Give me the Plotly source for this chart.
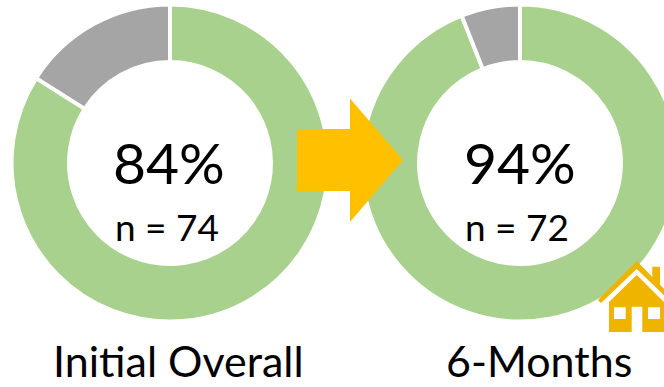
import plotly.graph_objects as go

# Share of patients per assessment
labels = ["Yes", "No"]
initial_values = [84, 16]
followup_values = [94, 6]
initial_pct = "84%"
followup_pct = "94%"
initial_n = "n = 74"
followup_n = "n = 72"
initial_title = "Initial Overall"
followup_title = "6-Months"

GREEN = "#A9D18E"
GREY = "#A5A5A5"
AMBER = "#FFC000"
HOUSE = "#EFB400"
FONT = "Lato, Carlito, Calibri, sans-serif"

# The canvas runs slightly past the window so the right ring bleeds off the edge
W, H = 680, 387


def dom(cx, cy, r):
    return dict(x=[(cx - r) / W, (cx + r) / W], y=[1 - (cy + r) / H, 1 - (cy - r) / H])


def ring(values, cx, cy):
    return go.Pie(
        labels=labels, values=values, hole=0.637, sort=False, direction="clockwise",
        rotation=0, textinfo="none", hoverinfo="label+percent", showlegend=False,
        marker=dict(colors=[GREEN, GREY], line=dict(color="white", width=4)),
        domain=dom(cx, cy, 158.5),
    )


fig = go.Figure([ring(initial_values, 170, 163), ring(followup_values, 520, 163)])


def text(s, x, y, size):
    return dict(text=s, x=x, y=y, xref="x", yref="y", showarrow=False,
                xanchor="center", yanchor="middle", font=dict(size=size, color="black", family=FONT))


annotations = [
    text(initial_pct, 169, 162, 57),
    text(followup_pct, 520, 162, 57),
    text(initial_n, 167, 226, 37),
    text(followup_n, 517, 226, 37),
    text(initial_title, 178.5, 360.5, 43),
    text(followup_title, 539, 360.5, 43),
]

# Transition arrow and the home icon, in canvas pixel units
arrow = "M297,129 L350,129 L350,98.5 L403,160 L350,222 L350,191 L297,191 Z"
house_backing = "M636.7,266 L600,303 L600,335 L680,335 L680,303 Z"
house_roof = "M636.7,261 L598,300 L601,303 L636.7,269 L672,303 L675,300 Z"
house_chimney = "M652.3,266.7 L660,266.7 L660,285 L652.3,278 Z"
house_body = (
    "M636.7,275 L609,302 L609,332 L631.7,332 L631.7,306.7 L642.3,306.7 L642.3,332 "
    "L664,332 L664,302 Z "
    "M614,307.3 L614,319 L625.7,319 L625.7,307.3 Z "
    "M648,307.3 L648,319 L660,319 L660,307.3 Z"
)


def solid(path, color):
    return dict(type="path", path=path, xref="x", yref="y", fillcolor=color,
                line=dict(width=0), layer="above")


shapes = [
    solid(arrow, AMBER),
    solid(house_backing, "white"),
    solid(house_roof, HOUSE),
    solid(house_chimney, HOUSE),
    solid(house_body, HOUSE),
]

fig.update_layout(
    width=W, height=H, margin=dict(l=0, r=0, t=0, b=0),
    paper_bgcolor="white", plot_bgcolor="rgba(0,0,0,0)",
    xaxis=dict(range=[0, W], visible=False, fixedrange=True),
    yaxis=dict(range=[H, 0], visible=False, fixedrange=True),
    annotations=annotations, shapes=shapes,
)

fig.write_html(
    "out.html",
    config=dict(displayModeBar=False),
    post_script="document.documentElement.style.overflow='hidden';document.body.style.overflow='hidden';",
)
